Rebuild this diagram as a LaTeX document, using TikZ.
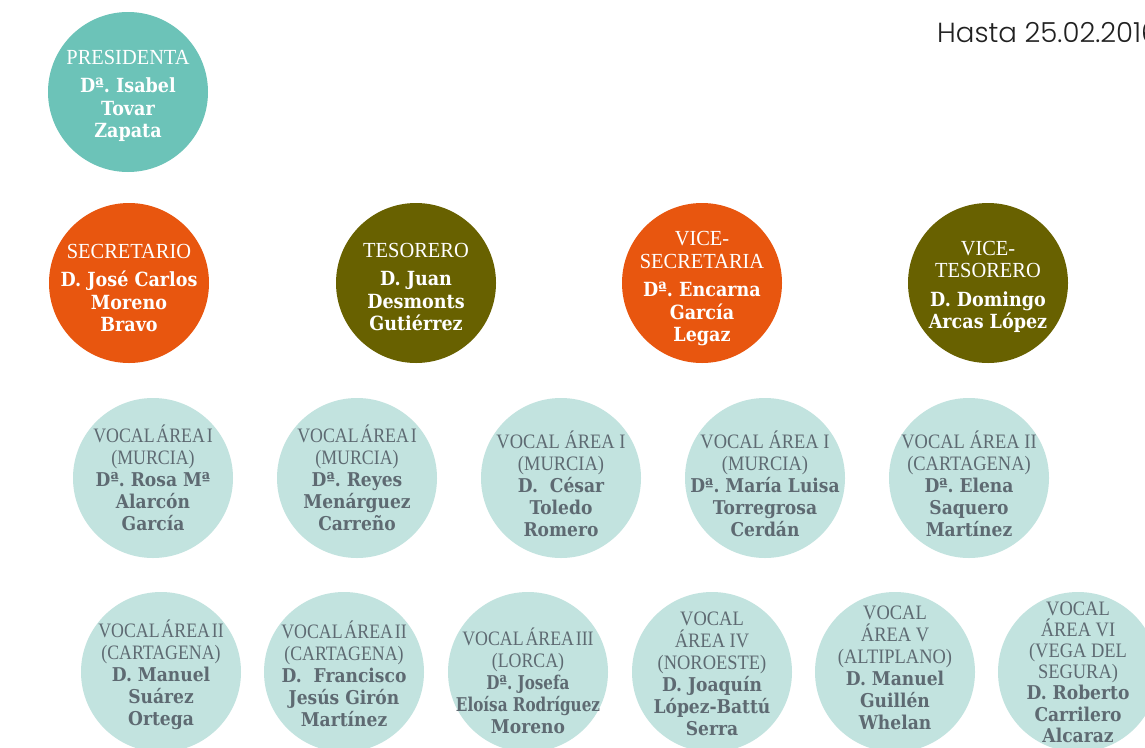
\documentclass[tikz,border=0pt]{standalone}
\usepackage{fontspec}
\usetikzlibrary{backgrounds}
\frenchspacing
\newfontfamily\nmf[FakeStretch=0.9]{DejaVu Serif}
\newfontfamily\nmfc[FakeStretch=0.8]{DejaVu Serif}
\newfontfamily\ttf[FakeStretch=0.95]{Liberation Serif}
\newfontfamily\ttv[FakeStretch=0.9]{Liberation Serif}
\newfontfamily\ttfc[FakeStretch=0.87,WordSpace=0.4]{Liberation Serif}
\IfFontExistsTF{Poppins Light}{\newfontfamily\datef{Poppins Light}}{\newfontfamily\datef{Poppins}}
\definecolor{cteal}{HTML}{6CC3B8}
\definecolor{corange}{HTML}{E8560F}
\definecolor{colive}{HTML}{686100}
\definecolor{cvocal}{HTML}{C2E3DF}
\definecolor{ctext}{HTML}{5E6A72}
\definecolor{cline}{HTML}{6F7C85}
\newcommand\Tt[1]{{\ttf\mdseries\fontsize{21.5}{22}\selectfont #1}}
\newcommand\Tv[1]{{\ttv\mdseries\fontsize{20.5}{22}\selectfont #1}}
\newcommand\Tc[1]{{\ttfc\mdseries\fontsize{20.5}{22}\selectfont #1}}
\newcommand\Nc[1]{{\nmfc\bfseries #1}}
\tikzset{
  circ/.style={circle, minimum size=160pt, inner sep=0pt},
  topteal/.style={circ, fill=cteal},
  toporange/.style={circ, fill=corange},
  topolive/.style={circ, fill=colive},
  vocal/.style={circ, fill=cvocal},
  toptext/.style={inner sep=0pt, align=center, text=white,
    font=\nmf\bfseries\fontsize{19.5}{22.5}\selectfont},
  vtext/.style={inner sep=0pt, align=center, text=ctext,
    font=\nmf\bfseries\fontsize{19}{22}\selectfont},
  vtexttight/.style={vtext, font=\nmf\bfseries\fontsize{19}{21.2}\selectfont},
  conn/.style={draw=cline, line width=2.5pt},
}
\begin{document}
\begin{tikzpicture}[x=1pt, y=-1pt]
\useasboundingbox (0,0) rectangle (1145,747);
\clip (0,0) rectangle (1145,747);
\fill[white] (0,0) rectangle (1145,747);

\node[anchor=base west, inner sep=0pt, font=\datef\fontsize{27.6}{30}\selectfont, text=black!87] (date) at (937,42) {Hasta 25.02.2016};

% top circles
\node[topteal] (pres) at (128,92) {};
\node[toporange] (sec) at (129,283) {};
\node[topolive] (tes) at (416,283) {};
\node[toporange] (vsec) at (702,283) {};
\node[topolive] (vtes) at (988,283) {};

\node[toptext] (prest) at ([yshift=-4pt]pres.center) {\Tt{PRESIDENTA}\\[6pt] Dª. Isabel\\ Tovar\\ Zapata};
\node[toptext] (sect) at ([yshift=-5pt]sec.center) {\Tt{SECRETARIO}\\[6pt] D. José Carlos\\ Moreno\\ Bravo};
\node[toptext] (test) at ([yshift=-4pt]tes.center) {\Tt{TESORERO}\\[6pt] D. Juan\\ Desmonts\\ Gutiérrez};
\node[toptext] (vsect) at ([yshift=-6pt]vsec.center) {\Tt{VICE-}\\ \Tt{SECRETARIA}\\[6pt] Dª. Encarna\\ García\\ Legaz};
\node[toptext] (vtest) at ([yshift=-4pt]vtes.center) {\Tt{VICE-}\\ \Tt{TESORERO}\\[6pt] D. Domingo\\ Arcas López};

% vocales, first row
\node[vocal] (v1) at (153,478) {};
\node[vocal] (v2) at (357,478) {};
\node[vocal] (v3) at (561,478) {};
\node[vocal] (v4) at (765,478) {};
\node[vocal] (v5) at (969,478) {};

\node[vtext] (v1t) at (v1.center) {\Tc{VOCAL ÁREA I}\\ \Tc{(MURCIA)}\\ Dª. Rosa Mª\\ Alarcón\\ García};
\node[vtext] (v2t) at (v2.center) {\Tc{VOCAL ÁREA I}\\ \Tc{(MURCIA)}\\ Dª. Reyes\\ Menárguez\\ Carreño};
\node[vtext] (v3t) at ([yshift=-6pt]v3.center) {\Tv{VOCAL ÁREA I}\\ \Tv{(MURCIA)}\\ D.\ \ César\\ Toledo\\ Romero};
\node[vtext] (v4t) at ([yshift=-6pt]v4.center) {\Tv{VOCAL ÁREA I}\\ \Tv{(MURCIA)}\\ Dª. María Luisa\\ Torregrosa\\ Cerdán};
\node[vtext] (v5t) at ([yshift=-6pt]v5.center) {\Tv{VOCAL ÁREA II}\\ \Tv{(CARTAGENA)}\\ Dª. Elena\\ Saquero\\ Martínez};

% vocales, second row
\node[vocal] (w1) at (161,672) {};
\node[vocal] (w2) at (344,672) {};
\node[vocal] (w3) at (528,672) {};
\node[vocal] (w4) at (712,672) {};
\node[vocal] (w5) at (895,672) {};
\node[vocal] (w6) at (1078,672) {};

\node[vtext] (w1t) at ([yshift=-3pt]w1.center) {\Tc{VOCAL ÁREA II}\\ \Tc{(CARTAGENA)}\\ D. Manuel\\ Suárez\\ Ortega};
\node[vtext] (w2t) at ([yshift=-2pt]w2.center) {\Tc{VOCAL ÁREA II}\\ \Tc{(CARTAGENA)}\\ D.\ \ Francisco\\ Jesús Girón\\ Martínez};
\node[vtext] (w3t) at ([yshift=-9pt]w3.center) {\Tc{VOCAL ÁREA III}\\ \Tc{(LORCA)}\\ \Nc{Dª. Josefa}\\ \Nc{Eloísa Rodríguez}\\ Moreno};
\node[vtext] (w4t) at ([yshift=-2pt]w4.center) {\Tv{VOCAL}\\ \Tv{ÁREA IV}\\ \Tv{(NOROESTE)}\\ D. Joaquín\\ López-Battú\\ Serra};
\node[vtext] (w5t) at ([yshift=4pt]w5.center) {\Tv{VOCAL}\\ \Tv{ÁREA V}\\ \Tv{(ALTIPLANO)}\\ D. Manuel\\ Guillén\\ Whelan};
\node[vtexttight] (w6t) at (w6.center) {\Tv{VOCAL}\\ \Tv{ÁREA VI}\\ \Tv{(VEGA DEL}\\ \Tv{SEGURA)}\\ D. Roberto\\ Carrilero\\ Alcaraz};

\coordinate (etop) at (1145,286);
\coordinate (c1) at (11,493);
\coordinate (c2) at (11,666);
\coordinate (c3) at (1145,493);

\begin{scope}[on background layer]
\draw[conn] (pres) -- (sec);
\draw[conn] ([yshift=-7pt]sec.center) -- ([yshift=-5pt]tes.center) -- ([yshift=-4pt]vsec.center) -- ([yshift=-3pt]vtes.center) -- (etop);
\draw[conn] (c3) -- ([yshift=-15pt]v5.center) -- ([yshift=-15pt]v4.center) -- ([yshift=-15pt]v3.center) -- ([yshift=-15pt]v2.center) -- ([yshift=-15pt]v1.center) -- (c1) -- (c2) -- ([yshift=6pt]w1.center) -- ([yshift=6pt]w2.center) -- ([yshift=6pt]w3.center) -- ([yshift=6pt]w4.center) -- ([yshift=6pt]w5.center) -- ([yshift=6pt]w6.center);
\end{scope}
\end{tikzpicture}
\end{document}
